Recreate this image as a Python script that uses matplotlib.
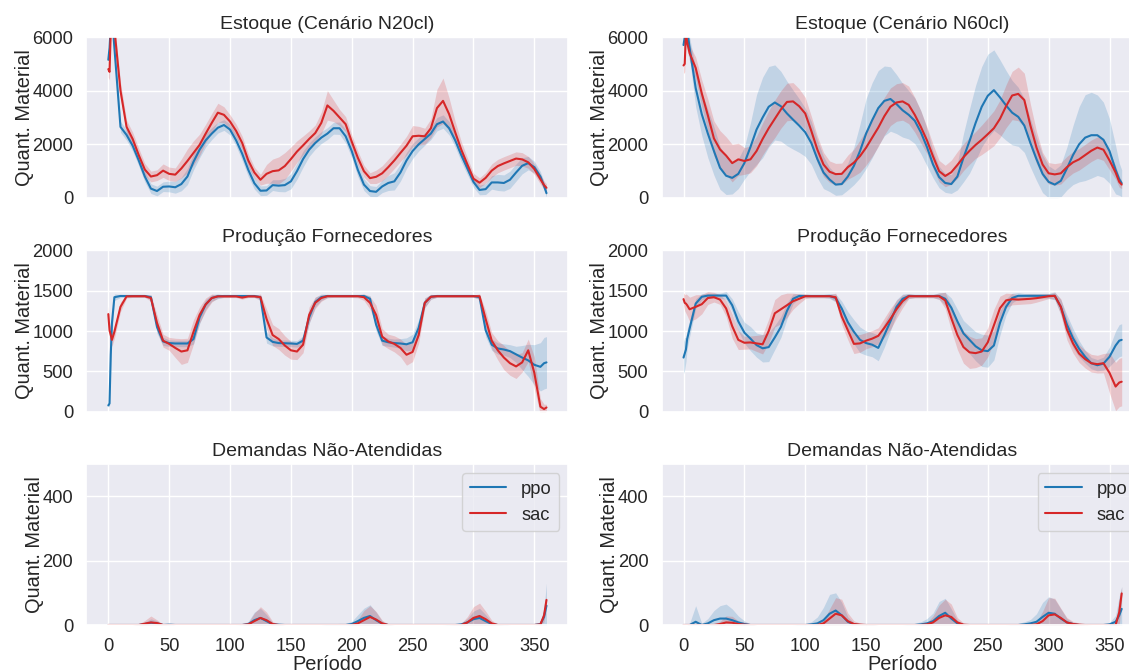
import numpy as np
import matplotlib
matplotlib.use("Agg")
import matplotlib.pyplot as plt
import seaborn as sns

# ---------------- data ----------------
periods = [0, 1, 2, 3, 5] + list(range(10, 360, 5)) + [358, 360]

# Estoque N20cl
ppo_stock_n20 = [5150, 5600, 6500, 6800, 5600,
                 2650, 2350, 1950, 1400, 800,
                 350, 260, 420, 430, 400,
                 520, 800, 1350, 1800, 2150,
                 2400, 2620, 2720, 2550, 2150,
                 1650, 1050, 550, 270, 280,
                 480, 460, 480, 620, 1000,
                 1450, 1800, 2050, 2250, 2400,
                 2600, 2600, 2300, 1750, 1050,
                 500, 260, 230, 430, 560,
                 620, 950, 1400, 1750, 2000,
                 2200, 2400, 2750, 2850, 2600,
                 2150, 1600, 1100, 600, 300,
                 330, 580, 580, 560, 680,
                 950, 1200, 1300, 1150, 800,
                 450, 180]
ppo_stock_n20_sd = [300, 300, 300, 300, 300,
                    200, 200, 200, 200, 200,
                    180, 180, 180, 200, 220,
                    250, 300, 300, 300, 250,
                    220, 200, 200, 200, 220,
                    250, 250, 220, 180, 180,
                    200, 220, 250, 280, 300,
                    300, 250, 230, 220, 220,
                    220, 230, 250, 250, 250,
                    220, 200, 200, 230, 280,
                    320, 320, 300, 280, 250,
                    230, 220, 250, 250, 250,
                    250, 250, 230, 200, 180,
                    200, 250, 300, 300, 320,
                    320, 300, 250, 220, 180,
                    150, 150]
sac_stock_n20 = [4800, 4700, 6200, 6600, 6300,
                 4000, 2650, 2200, 1600, 1060,
                 800, 850, 1020, 900, 870,
                 1100, 1380, 1680, 1980, 2400,
                 2800, 3180, 3100, 2850, 2500,
                 2050, 1400, 950, 680, 900,
                 1000, 1030, 1190, 1450, 1730,
                 1960, 2200, 2420, 2800, 3450,
                 3250, 3000, 2750, 2100, 1500,
                 1000, 740, 790, 920, 1150,
                 1400, 1680, 1950, 2300, 2320,
                 2300, 2600, 3350, 3620, 3125,
                 2450, 1800, 1250, 720, 570,
                 750, 1020, 1190, 1290, 1380,
                 1470, 1440, 1330, 1080, 700,
                 480, 380]
sac_stock_n20_sd = [300, 300, 300, 300, 300,
                    300, 250, 250, 250, 230,
                    200, 200, 250, 250, 250,
                    350, 450, 450, 400, 350,
                    350, 350, 300, 250, 250,
                    250, 250, 200, 200, 350,
                    450, 500, 500, 450, 400,
                    350, 300, 300, 400, 550,
                    400, 300, 280, 250, 250,
                    220, 200, 250, 280, 300,
                    300, 320, 350, 400, 350,
                    300, 350, 700, 850, 600,
                    400, 300, 250, 200, 180,
                    200, 250, 250, 250, 250,
                    250, 250, 220, 200, 180,
                    150, 150]

# Estoque N60cl
ppo_stock_n60 = [5700, 6000, 6400, 6300, 5600,
                 4100, 3125, 2400, 1750, 1125,
                 830, 750, 900, 1300, 1900,
                 2550, 3000, 3400, 3560, 3420,
                 3150, 2920, 2700, 2450, 2050,
                 1450, 950, 690, 500, 520,
                 800, 1200, 1750, 2400, 2900,
                 3350, 3620, 3690, 3500, 3270,
                 3100, 2880, 2450, 1900, 1250,
                 780, 560, 520, 800, 1500,
                 2125, 2800, 3400, 3810, 4020,
                 3750, 3450, 3180, 3025, 2700,
                 2050, 1450, 900, 600, 500,
                 640, 1100, 1600, 2000, 2250,
                 2340, 2340, 2170, 1750, 1050,
                 700, 550]
ppo_stock_n60_sd = [300, 300, 300, 300, 400,
                    700, 800, 900, 900, 800,
                    700, 600, 550, 600, 900,
                    1300, 1500, 1500, 1400, 1300,
                    1200, 1100, 1000, 900, 800,
                    700, 600, 450, 400, 400,
                    500, 700, 1000, 1300, 1400,
                    1400, 1300, 1200, 1100, 1000,
                    900, 850, 800, 700, 500,
                    400, 350, 350, 500, 900,
                    1200, 1400, 1500, 1550, 1500,
                    1400, 1300, 1200, 1100, 1000,
                    900, 800, 700, 600, 550,
                    600, 800, 1100, 1400, 1600,
                    1600, 1500, 1400, 1200, 900,
                    600, 500]
sac_stock_n60 = [4940, 5000, 6200, 5800, 5400,
                 4850, 3900, 3080, 2220, 1810,
                 1580, 1300, 1440, 1380, 1440,
                 1750, 2200, 2600, 2950, 3300,
                 3580, 3600, 3420, 3150, 2500,
                 1800, 1250, 980, 890, 900,
                 1150, 1320, 1560, 1875, 2250,
                 2620, 3050, 3400, 3560, 3600,
                 3470, 3100, 2650, 2150, 1550,
                 1000, 820, 960, 1230, 1520,
                 1760, 1980, 2170, 2380, 2600,
                 2950, 3420, 3820, 3880, 3650,
                 2700, 1880, 1250, 920, 880,
                 920, 1150, 1330, 1440, 1600,
                 1760, 1880, 1800, 1400, 950,
                 600, 500]
sac_stock_n60_sd = [300, 300, 300, 300, 300,
                    400, 500, 600, 650, 700,
                    700, 700, 600, 500, 500,
                    550, 600, 650, 700, 700,
                    700, 700, 650, 600, 550,
                    500, 450, 400, 400, 400,
                    450, 500, 600, 650, 700,
                    700, 700, 700, 700, 700,
                    700, 650, 600, 500, 450,
                    400, 400, 450, 500, 500,
                    500, 500, 550, 600, 650,
                    700, 800, 900, 1000, 1000,
                    800, 600, 450, 400, 400,
                    400, 400, 400, 400, 400,
                    400, 400, 400, 350, 250,
                    200, 150]

# Produção Fornecedores N20cl
ppo_prod_n20 = [75, 100, 700, 1100, 1420,
                1435, 1435, 1435, 1435, 1435,
                1420, 1050, 870, 850, 845,
                845, 845, 900, 1170, 1330,
                1410, 1432, 1435, 1435, 1435,
                1435, 1435, 1435, 1420, 920,
                865, 850, 848, 845, 840,
                880, 1170, 1360, 1420, 1435,
                1435, 1435, 1435, 1435, 1435,
                1435, 1400, 1080, 880, 860,
                850, 845, 835, 860, 1040,
                1350, 1425, 1435, 1435, 1435,
                1435, 1435, 1435, 1435, 1420,
                1010, 830, 783, 770, 750,
                710, 670, 635, 580, 555,
                600, 610]
ppo_prod_n20_sd = [20, 30, 150, 150, 40,
                   20, 15, 15, 15, 15,
                   30, 80, 50, 40, 40,
                   40, 40, 60, 80, 60,
                   40, 30, 15, 15, 15,
                   15, 15, 15, 30, 70,
                   50, 40, 40, 40, 40,
                   60, 80, 60, 40, 20,
                   15, 15, 15, 15, 15,
                   20, 40, 80, 60, 50,
                   50, 60, 80, 100, 100,
                   60, 30, 15, 15, 15,
                   15, 15, 15, 15, 30,
                   80, 70, 70, 70, 80,
                   100, 150, 200, 250, 300,
                   320, 320]
sac_prod_n20 = [1210, 1010, 950, 890, 990,
                1300, 1430, 1432, 1432, 1432,
                1410, 1100, 880, 840, 790,
                745, 760, 990, 1200, 1330,
                1410, 1430, 1430, 1430, 1430,
                1415, 1430, 1430, 1420, 1150,
                950, 900, 820, 760, 745,
                830, 1200, 1350, 1410, 1432,
                1432, 1432, 1432, 1432, 1432,
                1420, 1350, 1200, 930, 870,
                840, 790, 705, 740, 950,
                1350, 1425, 1432, 1432, 1432,
                1432, 1432, 1432, 1432, 1432,
                1150, 880, 760, 670, 600,
                560, 610, 760, 480, 60,
                30, 50]
sac_prod_n20_sd = [100, 80, 80, 80, 80,
                   60, 20, 15, 15, 15,
                   40, 100, 80, 80, 120,
                   160, 150, 150, 100, 80,
                   50, 20, 15, 15, 15,
                   20, 15, 15, 40, 120,
                   130, 130, 120, 110, 100,
                   100, 100, 70, 40, 20,
                   15, 15, 15, 15, 20,
                   40, 80, 120, 100, 90,
                   100, 110, 130, 120, 100,
                   60, 30, 15, 15, 15,
                   15, 15, 15, 15, 30,
                   100, 100, 120, 150, 150,
                   150, 120, 140, 200, 100,
                   60, 40]

# Produção Fornecedores N60cl
ppo_prod_n60 = [670, 720, 770, 900, 1030,
                1340, 1425, 1440, 1440, 1440,
                1440, 1320, 1120, 980, 905,
                825, 785, 800, 920, 1050,
                1250, 1400, 1435, 1435, 1435,
                1435, 1435, 1435, 1410, 1280,
                1110, 990, 890, 850, 830,
                790, 950, 1120, 1300, 1400,
                1435, 1435, 1435, 1435, 1435,
                1435, 1400, 1290, 1120, 970,
                890, 810, 760, 750, 820,
                1100, 1300, 1410, 1437, 1437,
                1437, 1437, 1437, 1437, 1437,
                1300, 1080, 910, 780, 680,
                600, 575, 595, 680, 820,
                880, 890]
ppo_prod_n60_sd = [200, 200, 150, 120, 100,
                   60, 40, 30, 30, 30,
                   50, 80, 120, 130, 150,
                   150, 170, 180, 150, 130,
                   100, 60, 30, 20, 20,
                   20, 20, 30, 50, 90,
                   130, 150, 160, 150, 150,
                   160, 150, 120, 90, 60,
                   30, 20, 20, 20, 20,
                   40, 80, 120, 150, 160,
                   170, 180, 200, 200, 180,
                   150, 100, 60, 40, 30,
                   30, 30, 30, 30, 50,
                   90, 120, 120, 100, 80,
                   70, 70, 80, 120, 180,
                   200, 200]
sac_prod_n60 = [1396, 1350, 1340, 1320, 1270,
                1300, 1333, 1410, 1420, 1390,
                1280, 1060, 890, 854, 858,
                846, 835, 1000, 1220, 1270,
                1320, 1370, 1400, 1432, 1432,
                1432, 1432, 1432, 1420, 1180,
                1010, 840, 846, 880, 905,
                940, 1040, 1150, 1270, 1370,
                1432, 1432, 1432, 1432, 1432,
                1432, 1380, 1160, 950, 800,
                735, 725, 745, 860, 1070,
                1283, 1380, 1395, 1390, 1395,
                1400, 1408, 1420, 1432, 1437,
                1300, 1020, 846, 720, 650,
                600, 588, 600, 480, 310,
                360, 370]
sac_prod_n60_sd = [80, 100, 120, 130, 150,
                   150, 120, 80, 60, 60,
                   100, 150, 120, 80, 80,
                   100, 120, 150, 170, 180,
                   150, 100, 60, 30, 20,
                   20, 20, 20, 50, 100,
                   120, 120, 110, 100, 100,
                   100, 120, 130, 110, 80,
                   30, 20, 20, 20, 20,
                   40, 100, 150, 180, 200,
                   200, 180, 170, 180, 200,
                   150, 90, 70, 60, 60,
                   60, 50, 40, 30, 40,
                   100, 130, 120, 110, 110,
                   110, 110, 120, 250, 300,
                   300, 300]

# Demandas Não-Atendidas N20cl
ppo_unmet_n20 = [0, 0, 0, 0, 0,
                 0, 0, 0, 0, 3,
                 7, 5, 0, 1, 0,
                 0, 0, 0, 0, 0,
                 0, 0, 0, 0, 0,
                 0, 3, 15, 22, 12,
                 2, 1, 0, 0, 0,
                 0, 0, 0, 0, 0,
                 0, 0, 0, 3, 12,
                 22, 28, 15, 4, 0,
                 0, 0, 0, 0, 0,
                 0, 0, 0, 0, 0,
                 0, 2, 8, 18, 22,
                 12, 3, 0, 0, 0,
                 0, 0, 0, 0, 3,
                 25, 60]
ppo_unmet_n20_sd = [0, 0, 0, 0, 0,
                    0, 0, 0, 2, 6,
                    12, 8, 2, 4, 0,
                    0, 0, 0, 0, 0,
                    0, 0, 0, 0, 0,
                    2, 8, 25, 30, 20,
                    5, 4, 0, 0, 0,
                    0, 0, 0, 0, 2,
                    4, 5, 5, 8, 20,
                    30, 35, 25, 8, 2,
                    0, 0, 0, 0, 0,
                    0, 0, 0, 0, 2,
                    3, 5, 12, 25, 30,
                    20, 6, 2, 3, 0,
                    0, 0, 0, 0, 5,
                    30, 70]
sac_unmet_n20 = [0, 0, 0, 0, 0,
                 0, 0, 0, 0, 4,
                 8, 6, 0, 0, 0,
                 0, 0, 0, 0, 0,
                 0, 0, 0, 0, 0,
                 0, 2, 12, 22, 15,
                 3, 0, 0, 0, 0,
                 0, 0, 0, 0, 0,
                 0, 0, 0, 0, 5,
                 15, 25, 17, 5, 0,
                 0, 0, 0, 0, 0,
                 0, 0, 0, 0, 0,
                 0, 0, 8, 22, 28,
                 18, 5, 0, 0, 0,
                 0, 0, 0, 0, 2,
                 30, 78]
sac_unmet_n20_sd = [0, 0, 0, 0, 0,
                    0, 0, 0, 3, 10,
                    20, 10, 2, 0, 0,
                    0, 0, 0, 0, 0,
                    0, 0, 0, 0, 0,
                    0, 5, 25, 35, 25,
                    8, 2, 0, 0, 0,
                    0, 0, 0, 0, 0,
                    0, 0, 0, 2, 12,
                    30, 35, 25, 10, 2,
                    0, 0, 0, 0, 0,
                    0, 0, 0, 0, 0,
                    2, 5, 18, 35, 40,
                    25, 10, 2, 0, 0,
                    0, 0, 0, 0, 2,
                    20, 10]

# Demandas Não-Atendidas N60cl
ppo_unmet_n60 = [0, 0, 0, 0, 0,
                 10, 0, 5, 15, 20,
                 20, 15, 8, 3, 0,
                 0, 0, 0, 0, 0,
                 0, 0, 0, 0, 2,
                 5, 15, 35, 45, 30,
                 10, 2, 0, 0, 0,
                 0, 0, 0, 0, 0,
                 0, 0, 2, 5, 12,
                 28, 38, 20, 5, 0,
                 0, 0, 0, 0, 0,
                 0, 0, 0, 0, 2,
                 5, 10, 25, 38, 35,
                 20, 8, 3, 0, 0,
                 0, 0, 0, 2, 10,
                 30, 50]
ppo_unmet_n60_sd = [0, 0, 0, 0, 5,
                    50, 5, 15, 30, 40,
                    45, 35, 20, 10, 3,
                    0, 0, 0, 0, 0,
                    0, 0, 2, 3, 8,
                    20, 40, 60, 55, 40,
                    15, 5, 2, 2, 2,
                    0, 0, 0, 0, 0,
                    2, 5, 8, 15, 25,
                    45, 45, 30, 10, 3,
                    0, 0, 0, 0, 0,
                    0, 0, 2, 5, 8,
                    12, 25, 45, 50, 45,
                    30, 12, 5, 2, 0,
                    0, 0, 0, 5, 20,
                    60, 70]
sac_unmet_n60 = [0, 0, 0, 0, 0,
                 0, 0, 0, 0, 3,
                 8, 7, 3, 1, 0,
                 0, 0, 0, 0, 0,
                 0, 0, 0, 0, 0,
                 0, 5, 20, 35, 30,
                 12, 3, 1, 0, 0,
                 0, 0, 0, 0, 0,
                 0, 0, 0, 2, 8,
                 22, 30, 25, 8, 1,
                 0, 0, 0, 0, 0,
                 0, 0, 0, 0, 0,
                 0, 2, 12, 30, 33,
                 22, 8, 3, 1, 0,
                 0, 0, 0, 0, 0,
                 40, 98]
sac_unmet_n60_sd = [0, 0, 0, 0, 0,
                    0, 0, 0, 2, 8,
                    20, 20, 10, 8, 3,
                    0, 0, 0, 0, 0,
                    0, 0, 0, 0, 0,
                    2, 10, 30, 50, 50,
                    25, 10, 5, 3, 2,
                    0, 0, 0, 0, 0,
                    0, 0, 2, 5, 20,
                    40, 50, 40, 15, 5,
                    0, 0, 0, 0, 0,
                    0, 0, 0, 0, 0,
                    2, 8, 30, 55, 50,
                    30, 15, 8, 5, 2,
                    0, 0, 0, 0, 2,
                    40, 20]

titles_top = ["Estoque (Cenário N20cl)", "Estoque (Cenário N60cl)"]
title_mid = "Produção Fornecedores"
title_bot = "Demandas Não-Atendidas"
ylabel = "Quant. Material"
xlabel = "Período"
series_names = ["ppo", "sac"]

# ---------------- style ----------------
sns.set_theme(style="darkgrid", font_scale=1.2)
plt.rcParams['font.family'] = ['Liberation Sans', 'DejaVu Sans']

W, H = 1129, 672
fig = plt.figure(figsize=(W / 100, H / 100), dpi=100)

col_left = [86.4, 661.6]
ax_w = 482.0
row_tops = [37.0, 250.5, 464.0]
ax_h = 161.0

c_ppo = "#1f77b4"
c_sac = "#d62728"

panels = [
    [(ppo_stock_n20, ppo_stock_n20_sd, sac_stock_n20, sac_stock_n20_sd),
     (ppo_stock_n60, ppo_stock_n60_sd, sac_stock_n60, sac_stock_n60_sd)],
    [(ppo_prod_n20, ppo_prod_n20_sd, sac_prod_n20, sac_prod_n20_sd),
     (ppo_prod_n60, ppo_prod_n60_sd, sac_prod_n60, sac_prod_n60_sd)],
    [(ppo_unmet_n20, ppo_unmet_n20_sd, sac_unmet_n20, sac_unmet_n20_sd),
     (ppo_unmet_n60, ppo_unmet_n60_sd, sac_unmet_n60, sac_unmet_n60_sd)],
]
ylims = [(0, 6000), (0, 2000), (0, 500)]
yticks = [[0, 2000, 4000, 6000], [0, 500, 1000, 1500, 2000], [0, 200, 400]]

x = np.array(periods)
for r in range(3):
    for c in range(2):
        l = col_left[c] / W
        b = (H - row_tops[r] - ax_h) / H
        ax = fig.add_axes([l, b, ax_w / W, ax_h / H])
        pm, ps, sm, ss = [np.array(a, dtype=float) for a in panels[r][c]]
        ax.fill_between(x, pm - ps, pm + ps, color=c_ppo, alpha=0.2, linewidth=0)
        ax.plot(x, pm, color=c_ppo, lw=1.5, label=series_names[0])
        ax.fill_between(x, sm - ss, sm + ss, color=c_sac, alpha=0.2, linewidth=0)
        ax.plot(x, sm, color=c_sac, lw=1.5, label=series_names[1])
        ax.set_xlim(-18, 378)
        ax.set_ylim(*ylims[r])
        ax.set_yticks(yticks[r])
        ax.set_xticks(range(0, 351, 50))
        ax.set_ylabel(ylabel, labelpad=-1)
        if r == 0:
            ax.set_title(titles_top[c], fontsize=14)
        elif r == 1:
            ax.set_title(title_mid, fontsize=14)
        else:
            ax.set_title(title_bot, fontsize=14)
        if r < 2:
            ax.set_xticklabels([])
        else:
            ax.set_xlabel(xlabel, labelpad=0)
            ax.legend(loc="upper right")

fig.savefig("out.png", dpi=100)
